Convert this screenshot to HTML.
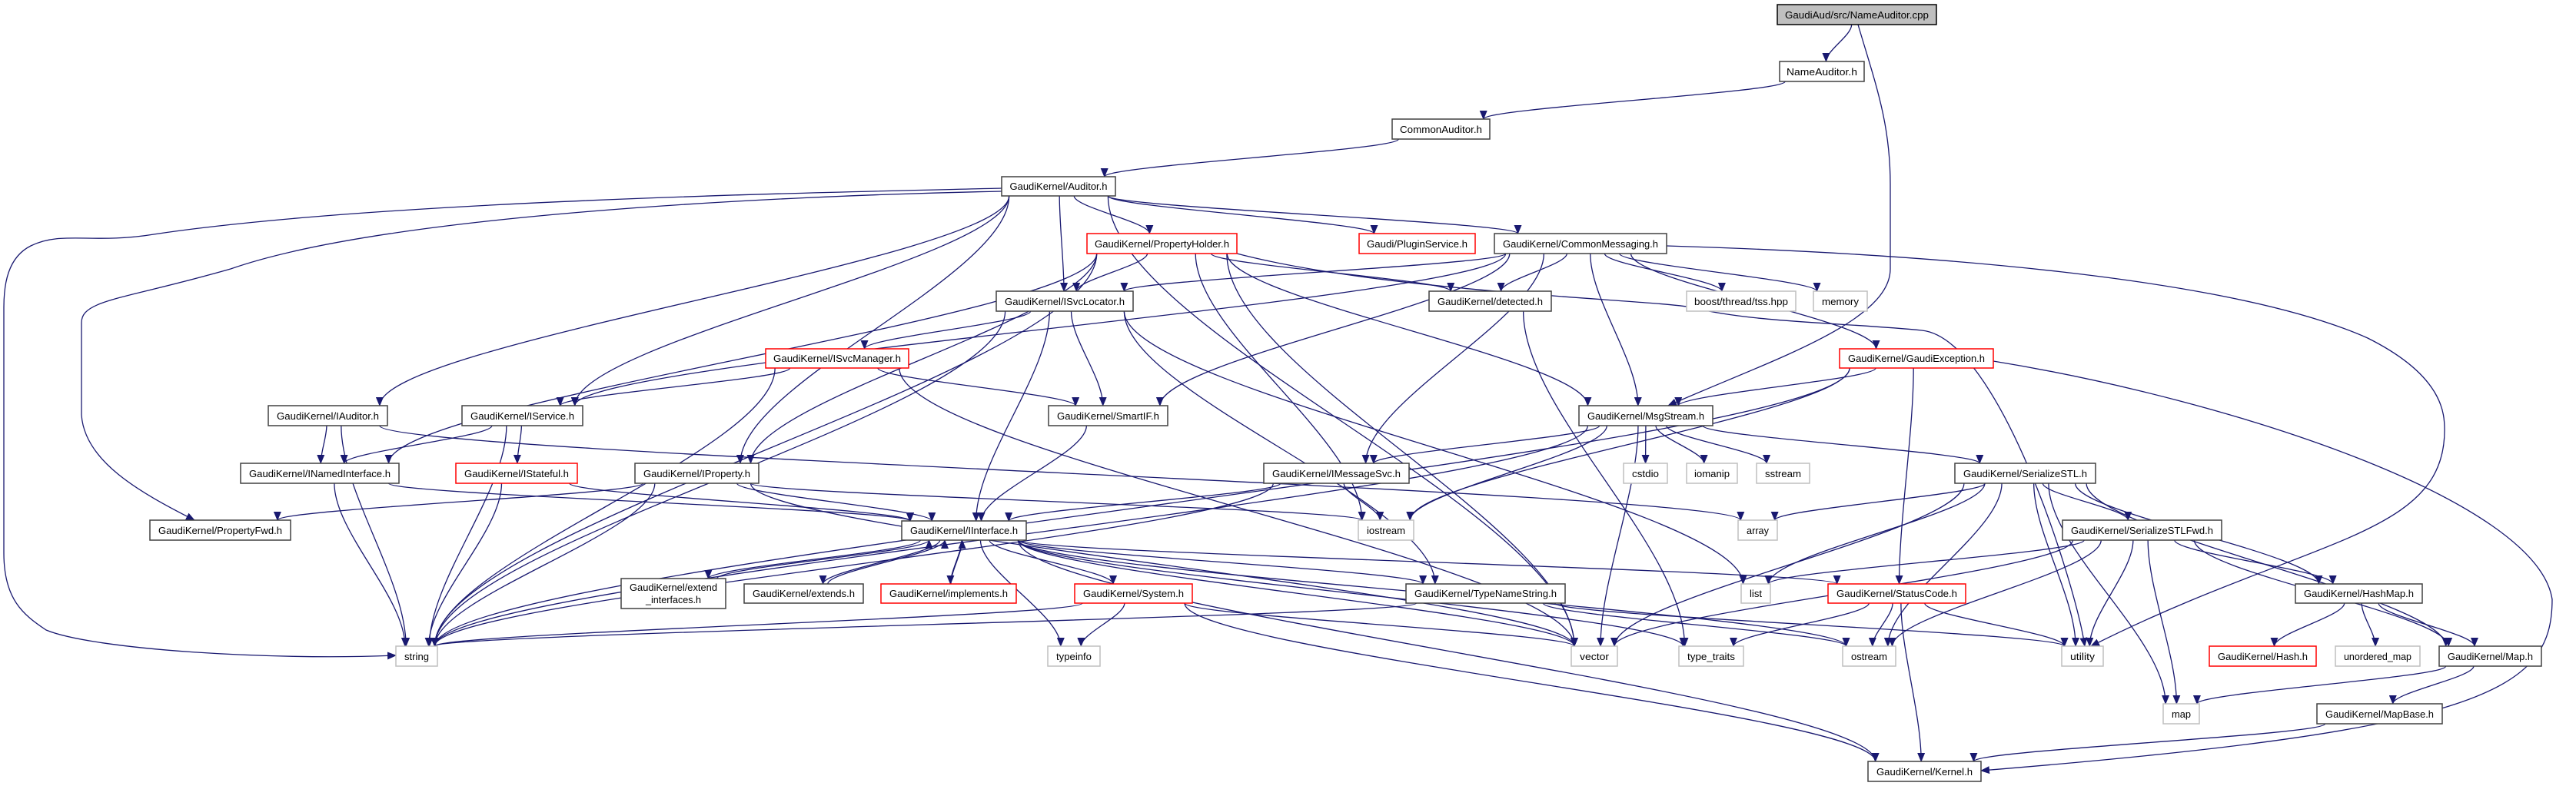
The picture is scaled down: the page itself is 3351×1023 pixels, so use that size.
<!DOCTYPE html>
<html><head><meta charset="utf-8"><style>
html,body{margin:0;padding:0;background:#fff;}
svg{display:block;}
text{font-family:"Liberation Sans",Arial,sans-serif;font-size:13px;fill:#000;}
</style></head><body>
<svg id="g" width="3351" height="1023" viewBox="0 0 3351 1023" xmlns="http://www.w3.org/2000/svg">
<defs><marker id="a" markerWidth="12" markerHeight="10" refX="11" refY="5" orient="auto" markerUnits="userSpaceOnUse"><path d="M0,0 L12,5 L0,10 z" fill="#191970"/></marker></defs>
<g id="edges" fill="none" stroke="#191970" stroke-width="1.3"></g>
<g id="nodes" stroke-width="1.5">
<rect x="2312" y="6" width="207" height="26" fill="#bfbfbf" stroke="#000"/><text x="2415.5" y="24" text-anchor="middle" textLength="187" lengthAdjust="spacingAndGlyphs">GaudiAud/src/NameAuditor.cpp</text>
<rect x="2315" y="80" width="110" height="26" fill="#fff" stroke="#404040"/><text x="2370" y="98" text-anchor="middle" textLength="92" lengthAdjust="spacingAndGlyphs">NameAuditor.h</text>
<rect x="1811" y="155" width="127" height="26" fill="#fff" stroke="#404040"/><text x="1874.5" y="173" text-anchor="middle" textLength="107" lengthAdjust="spacingAndGlyphs">CommonAuditor.h</text>
<rect x="1303" y="230" width="148" height="25" fill="#fff" stroke="#404040"/><text x="1377" y="247" text-anchor="middle" textLength="127" lengthAdjust="spacingAndGlyphs">GaudiKernel/Auditor.h</text>
<rect x="1414" y="304" width="195" height="26" fill="#fff" stroke="#ff0000"/><text x="1511.5" y="322" text-anchor="middle" textLength="175" lengthAdjust="spacingAndGlyphs">GaudiKernel/PropertyHolder.h</text>
<rect x="1768" y="304" width="151" height="26" fill="#fff" stroke="#ff0000"/><text x="1843.5" y="322" text-anchor="middle" textLength="131" lengthAdjust="spacingAndGlyphs">Gaudi/PluginService.h</text>
<rect x="1944" y="304" width="224" height="26" fill="#fff" stroke="#404040"/><text x="2056" y="322" text-anchor="middle" textLength="202" lengthAdjust="spacingAndGlyphs">GaudiKernel/CommonMessaging.h</text>
<rect x="1296" y="379" width="178" height="26" fill="#fff" stroke="#404040"/><text x="1385" y="397" text-anchor="middle" textLength="156" lengthAdjust="spacingAndGlyphs">GaudiKernel/ISvcLocator.h</text>
<rect x="1859" y="379" width="159" height="26" fill="#fff" stroke="#404040"/><text x="1938.5" y="397" text-anchor="middle" textLength="137" lengthAdjust="spacingAndGlyphs">GaudiKernel/detected.h</text>
<rect x="2194" y="379" width="142" height="26" fill="#fff" stroke="#bfbfbf"/><text x="2265" y="397" text-anchor="middle" textLength="122" lengthAdjust="spacingAndGlyphs">boost/thread/tss.hpp</text>
<rect x="2359" y="379" width="70" height="26" fill="#fff" stroke="#bfbfbf"/><text x="2394" y="397" text-anchor="middle" textLength="48" lengthAdjust="spacingAndGlyphs">memory</text>
<rect x="996" y="454" width="186" height="25" fill="#fff" stroke="#ff0000"/><text x="1089" y="471" text-anchor="middle" textLength="166" lengthAdjust="spacingAndGlyphs">GaudiKernel/ISvcManager.h</text>
<rect x="2393" y="454" width="200" height="25" fill="#fff" stroke="#ff0000"/><text x="2493" y="471" text-anchor="middle" textLength="178" lengthAdjust="spacingAndGlyphs">GaudiKernel/GaudiException.h</text>
<rect x="349" y="528" width="155" height="26" fill="#fff" stroke="#404040"/><text x="426.5" y="546" text-anchor="middle" textLength="133" lengthAdjust="spacingAndGlyphs">GaudiKernel/IAuditor.h</text>
<rect x="601" y="528" width="157" height="26" fill="#fff" stroke="#404040"/><text x="679.5" y="546" text-anchor="middle" textLength="135" lengthAdjust="spacingAndGlyphs">GaudiKernel/IService.h</text>
<rect x="1364" y="528" width="155" height="26" fill="#fff" stroke="#404040"/><text x="1441.5" y="546" text-anchor="middle" textLength="133" lengthAdjust="spacingAndGlyphs">GaudiKernel/SmartIF.h</text>
<rect x="2054" y="528" width="174" height="26" fill="#fff" stroke="#404040"/><text x="2141" y="546" text-anchor="middle" textLength="152" lengthAdjust="spacingAndGlyphs">GaudiKernel/MsgStream.h</text>
<rect x="313" y="603" width="206" height="26" fill="#fff" stroke="#404040"/><text x="416" y="621" text-anchor="middle" textLength="184" lengthAdjust="spacingAndGlyphs">GaudiKernel/INamedInterface.h</text>
<rect x="593" y="603" width="158" height="26" fill="#fff" stroke="#ff0000"/><text x="672" y="621" text-anchor="middle" textLength="136" lengthAdjust="spacingAndGlyphs">GaudiKernel/IStateful.h</text>
<rect x="826" y="603" width="161" height="26" fill="#fff" stroke="#404040"/><text x="906.5" y="621" text-anchor="middle" textLength="139" lengthAdjust="spacingAndGlyphs">GaudiKernel/IProperty.h</text>
<rect x="1644" y="603" width="189" height="26" fill="#fff" stroke="#404040"/><text x="1738.5" y="621" text-anchor="middle" textLength="167" lengthAdjust="spacingAndGlyphs">GaudiKernel/IMessageSvc.h</text>
<rect x="2112" y="603" width="57" height="26" fill="#fff" stroke="#bfbfbf"/><text x="2140.5" y="621" text-anchor="middle" textLength="35" lengthAdjust="spacingAndGlyphs">cstdio</text>
<rect x="2194" y="603" width="66" height="26" fill="#fff" stroke="#bfbfbf"/><text x="2227" y="621" text-anchor="middle" textLength="46" lengthAdjust="spacingAndGlyphs">iomanip</text>
<rect x="2285" y="603" width="69" height="26" fill="#fff" stroke="#bfbfbf"/><text x="2319.5" y="621" text-anchor="middle" textLength="47" lengthAdjust="spacingAndGlyphs">sstream</text>
<rect x="2543" y="603" width="183" height="26" fill="#fff" stroke="#404040"/><text x="2634.5" y="621" text-anchor="middle" textLength="161" lengthAdjust="spacingAndGlyphs">GaudiKernel/SerializeSTL.h</text>
<rect x="195" y="677" width="183" height="26" fill="#fff" stroke="#404040"/><text x="286.5" y="695" text-anchor="middle" textLength="161" lengthAdjust="spacingAndGlyphs">GaudiKernel/PropertyFwd.h</text>
<rect x="1173" y="678" width="162" height="25" fill="#fff" stroke="#404040"/><text x="1254" y="695" text-anchor="middle" textLength="140" lengthAdjust="spacingAndGlyphs">GaudiKernel/IInterface.h</text>
<rect x="1767" y="677" width="72" height="26" fill="#fff" stroke="#bfbfbf"/><text x="1803" y="695" text-anchor="middle" textLength="50" lengthAdjust="spacingAndGlyphs">iostream</text>
<rect x="2261" y="677" width="51" height="26" fill="#fff" stroke="#bfbfbf"/><text x="2286.5" y="695" text-anchor="middle" textLength="29" lengthAdjust="spacingAndGlyphs">array</text>
<rect x="2683" y="677" width="207" height="26" fill="#fff" stroke="#404040"/><text x="2786.5" y="695" text-anchor="middle" textLength="185" lengthAdjust="spacingAndGlyphs">GaudiKernel/SerializeSTLFwd.h</text>
<rect x="808" y="753" width="136" height="39" fill="#fff" stroke="#404040"/><text x="876" y="769" text-anchor="middle" textLength="114" lengthAdjust="spacingAndGlyphs">GaudiKernel/extend</text><text x="876" y="785" text-anchor="middle" textLength="72" lengthAdjust="spacingAndGlyphs">_interfaces.h</text>
<rect x="968" y="760" width="155" height="25" fill="#fff" stroke="#404040"/><text x="1045.5" y="777" text-anchor="middle" textLength="133" lengthAdjust="spacingAndGlyphs">GaudiKernel/extends.h</text>
<rect x="1146" y="760" width="176" height="25" fill="#fff" stroke="#ff0000"/><text x="1234" y="777" text-anchor="middle" textLength="154" lengthAdjust="spacingAndGlyphs">GaudiKernel/implements.h</text>
<rect x="1398" y="760" width="153" height="25" fill="#fff" stroke="#ff0000"/><text x="1474.5" y="777" text-anchor="middle" textLength="131" lengthAdjust="spacingAndGlyphs">GaudiKernel/System.h</text>
<rect x="1829" y="760" width="207" height="25" fill="#fff" stroke="#404040"/><text x="1932.5" y="777" text-anchor="middle" textLength="185" lengthAdjust="spacingAndGlyphs">GaudiKernel/TypeNameString.h</text>
<rect x="2265" y="760" width="38" height="25" fill="#fff" stroke="#bfbfbf"/><text x="2284" y="777" text-anchor="middle" textLength="16" lengthAdjust="spacingAndGlyphs">list</text>
<rect x="2378" y="760" width="179" height="25" fill="#fff" stroke="#ff0000"/><text x="2467.5" y="777" text-anchor="middle" textLength="157" lengthAdjust="spacingAndGlyphs">GaudiKernel/StatusCode.h</text>
<rect x="2986" y="760" width="165" height="25" fill="#fff" stroke="#404040"/><text x="3068.5" y="777" text-anchor="middle" textLength="143" lengthAdjust="spacingAndGlyphs">GaudiKernel/HashMap.h</text>
<rect x="515" y="841" width="54" height="26" fill="#fff" stroke="#bfbfbf"/><text x="542" y="859" text-anchor="middle" textLength="32" lengthAdjust="spacingAndGlyphs">string</text>
<rect x="1363" y="841" width="68" height="26" fill="#fff" stroke="#bfbfbf"/><text x="1397" y="859" text-anchor="middle" textLength="46" lengthAdjust="spacingAndGlyphs">typeinfo</text>
<rect x="2044" y="841" width="60" height="26" fill="#fff" stroke="#bfbfbf"/><text x="2074" y="859" text-anchor="middle" textLength="38" lengthAdjust="spacingAndGlyphs">vector</text>
<rect x="2184" y="841" width="84" height="26" fill="#fff" stroke="#bfbfbf"/><text x="2226" y="859" text-anchor="middle" textLength="62" lengthAdjust="spacingAndGlyphs">type_traits</text>
<rect x="2397" y="841" width="69" height="26" fill="#fff" stroke="#bfbfbf"/><text x="2431.5" y="859" text-anchor="middle" textLength="47" lengthAdjust="spacingAndGlyphs">ostream</text>
<rect x="2682" y="841" width="54" height="26" fill="#fff" stroke="#bfbfbf"/><text x="2709" y="859" text-anchor="middle" textLength="32" lengthAdjust="spacingAndGlyphs">utility</text>
<rect x="2874" y="841" width="139" height="26" fill="#fff" stroke="#ff0000"/><text x="2943.5" y="859" text-anchor="middle" textLength="117" lengthAdjust="spacingAndGlyphs">GaudiKernel/Hash.h</text>
<rect x="3038" y="841" width="110" height="26" fill="#fff" stroke="#bfbfbf"/><text x="3093" y="859" text-anchor="middle" textLength="88" lengthAdjust="spacingAndGlyphs">unordered_map</text>
<rect x="3173" y="841" width="133" height="26" fill="#fff" stroke="#404040"/><text x="3239.5" y="859" text-anchor="middle" textLength="111" lengthAdjust="spacingAndGlyphs">GaudiKernel/Map.h</text>
<rect x="2814" y="916" width="47" height="26" fill="#fff" stroke="#bfbfbf"/><text x="2837.5" y="934" text-anchor="middle" textLength="25" lengthAdjust="spacingAndGlyphs">map</text>
<rect x="3014" y="916" width="163" height="26" fill="#fff" stroke="#404040"/><text x="3095.5" y="934" text-anchor="middle" textLength="141" lengthAdjust="spacingAndGlyphs">GaudiKernel/MapBase.h</text>
<rect x="2430" y="991" width="147" height="26" fill="#fff" stroke="#404040"/><text x="2503.5" y="1009" text-anchor="middle" textLength="125" lengthAdjust="spacingAndGlyphs">GaudiKernel/Kernel.h</text>
</g>
</svg>
<script>
var N={cpp:[2312,6,207,26],nah:[2315,80,110,26],ca:[1811,155,127,26],au:[1303,230,148,25],ph:[1414,304,195,26],ps:[1768,304,151,26],cm:[1944,304,224,26],sl:[1296,379,178,26],de:[1859,379,159,26],bt:[2194,379,142,26],me:[2359,379,70,26],sm:[996,454,186,25],ge:[2393,454,200,25],ia:[349,528,155,26],is:[601,528,157,26],sif:[1364,528,155,26],ms:[2054,528,174,26],ni:[313,603,206,26],st:[593,603,158,26],ip:[826,603,161,26],im:[1644,603,189,26],cs:[2112,603,57,26],io:[2194,603,66,26],ss:[2285,603,69,26],sstl:[2543,603,183,26],pf:[195,677,183,26],ii:[1173,678,162,25],ios:[1767,677,72,26],ar:[2261,677,51,26],sf:[2683,677,207,26],ei:[808,753,136,39],ex:[968,760,155,25],imp:[1146,760,176,25],sys:[1398,760,153,25],tn:[1829,760,207,25],li:[2265,760,38,25],sc:[2378,760,179,25],hm:[2986,760,165,25],str:[515,841,54,26],ti:[1363,841,68,26],ve:[2044,841,60,26],tt:[2184,841,84,26],os:[2397,841,69,26],ut:[2682,841,54,26],ha:[2874,841,139,26],um:[3038,841,110,26],map:[3173,841,133,26],mp:[2814,916,47,26],mb:[3014,916,163,26],ke:[2430,991,147,26]};
var E=[["cpp","nah"],["nah","ca"],["ca","au"],["au","ph"],["au","ps"],["au","cm"],["au","sl"],["au","ia"],["au","is"],["au","ip"],["au","ve"],
["ph","sl"],["ph","ip"],["ph","ni"],["ph","de"],["ph","ms"],["ph","str"],["ph","ios"],["ph","ve"],
["cm","sl"],["cm","is"],["cm","sif"],["cm","ms"],["cm","im"],["cm","ge"],["cm","de"],["cm","bt"],["cm","me"],
["sl","sm"],["sl","sif"],["sl","ii"],["sl","str"],["sl","li"],["sl","tn"],["sm","is"],["sm","sif"],["sm","str"],["sm","ve"],
["ia","ni"],["ia","str"],["ia","ar"],["is","ni"],["is","st"],["is","str"],["ni","ii"],["ni","str"],["st","ii"],["st","str"],
["ip","ii"],["ip","pf"],["ip","str"],["ip","ios"],["ip","ve"],["sif","ii"],["ge","ms"],["ge","sc"],["ge","str"],["ge","ios"],
["ms","im"],["ms","sstl"],["ms","cs"],["ms","io"],["ms","ss"],["ms","str"],["ms","ve"],["ms","ios"],["im","ii"],["im","ios"],["im","str"],
["ii","ei"],["ii","ex"],["ii","imp"],["ii","sys"],["ii","tn"],["ii","sc"],["ii","ti"],["ii","os"],["ii","tt"],["ii","ke"],["ii","ve"],
["ei","ii"],["ex","ii"],["imp","ii"],["sys","str"],["sys","ti"],["sys","ve"],["sys","ke"],["tn","str"],["tn","os"],["tn","ut"],
["sc","os"],["sc","tt"],["sc","ut"],["sc","ke"],["sstl","ar"],["sstl","li"],["sstl","os"],["sstl","ut"],["sstl","mp"],["sstl","ve"],["sstl","sf"],["sstl","hm"],["sstl","map"],
["sf","li"],["sf","ve"],["sf","ut"],["sf","mp"],["sf","os"],["sf","hm"],["sf","map"],["hm","ha"],["hm","um"],["hm","map"],["map","mp"],["map","mb"],["mb","ke"],["de","tt"]];
var g=document.getElementById("edges"),ns="http://www.w3.org/2000/svg";
function add(d){var p=document.createElementNS(ns,"path");p.setAttribute("d",d);p.setAttribute("marker-end","url(#a)");g.appendChild(p);}
function cl(v,m){return Math.max(-m,Math.min(m,v));}
E.forEach(function(e){var s=N[e[0]],t=N[e[1]];var sx=s[0]+s[2]/2,tx=t[0]+t[2]/2,sy,ty;
if(t[1]>s[1]+s[3]){sy=s[1]+s[3];ty=t[1];}else if(t[1]+t[3]<s[1]){sy=s[1];ty=t[1]+t[3];}
else{sy=s[1]+s[3]/2;ty=t[1]+t[3]/2;if(tx>sx){sx=s[0]+s[2];tx=t[0];}else{sx=s[0];tx=t[0]+t[2];}add("M"+sx+","+sy+" L"+tx+","+ty);return;}
var dx=(tx-sx);sx+=cl(dx*0.15,s[2]/2.3);tx-=cl(dx*0.12,t[2]/2.3);
var m=(ty-sy)*0.3;add("M"+sx+","+sy+" C"+sx+","+(sy+m)+" "+tx+","+(ty-m)+" "+tx+","+ty);});
add("M2417,32 C2440,110 2459,160 2459,240 L2459,350 C2459,420 2300,470 2170,528");
add("M1303,245 C1100,250 500,260 200,305 C120,318 80,300 40,320 C10,335 5,370 5,400 L5,720 C5,780 30,800 60,820 C120,845 350,860 515,853");
add("M1303,249 C1000,255 500,280 300,350 C160,390 106,390 106,420 L106,540 C110,600 180,640 253,677");
add("M1609,330 C1800,380 2150,390 2200,400 C2280,420 2400,420 2500,430 C2600,440 2700,760 2712,841");
add("M2168,320 C2500,330 2900,360 3080,440 C3180,490 3180,540 3180,560 C3180,700 3000,700 2720,841");
add("M2593,470 C2900,520 3300,650 3320,780 C3320,900 3230,950 2577,1003");
</script>
</body></html>
